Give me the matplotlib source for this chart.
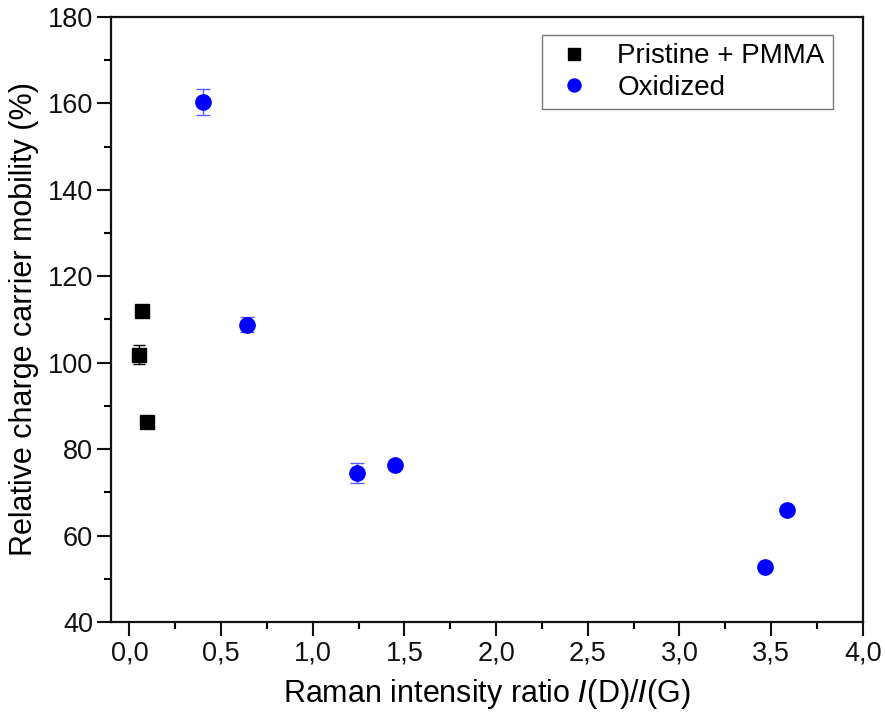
import matplotlib
matplotlib.use("Agg")
import matplotlib.pyplot as plt
from matplotlib.ticker import FuncFormatter, MultipleLocator

plt.rcParams['font.family'] = ['Liberation Sans', 'DejaVu Sans']

pristine_x = [0.071, 0.055, 0.099]
pristine_y = [112.0, 101.8, 86.3]
pristine_err = [0.0, 2.2, 0.0]

oxid_x = [0.40, 0.64, 1.243, 1.45, 3.467, 3.587]
oxid_y = [160.4, 108.8, 74.5, 76.3, 52.7, 65.9]
oxid_err = [3.0, 1.8, 2.3, 0.0, 0.0, 0.0]

fig = plt.figure(figsize=(8.85, 7.22), dpi=100)
ax = fig.add_axes([0.1254, 0.1385, 0.975 - 0.1254, 0.9765 - 0.1385])

ax.errorbar(pristine_x, pristine_y, yerr=pristine_err, fmt='none',
            ecolor='black', elinewidth=1, capsize=4.5, capthick=1, zorder=2)
ax.errorbar(oxid_x, oxid_y, yerr=oxid_err, fmt='none',
            ecolor='#5a5aff', elinewidth=1, capsize=5, capthick=1, zorder=2)
ax.plot(pristine_x, pristine_y, 's', color='black', ms=9.5, ls='none',
        label='Pristine + PMMA', zorder=3)
ax.plot(oxid_x, oxid_y, 'o', color='#0000ff', ms=11, ls='none',
        label='Oxidized', zorder=3)

ax.set_xlim(-0.1, 4.0)
ax.set_ylim(40, 180)
ax.xaxis.set_major_locator(MultipleLocator(0.5))
ax.xaxis.set_minor_locator(MultipleLocator(0.25))
ax.yaxis.set_major_locator(MultipleLocator(20))
ax.yaxis.set_minor_locator(MultipleLocator(10))
ax.xaxis.set_major_formatter(FuncFormatter(lambda v, p: f"{v:.1f}".replace('.', ',')))
ax.yaxis.set_major_formatter(FuncFormatter(lambda v, p: f"{v:.0f}"))

ax.tick_params(which='major', direction='out', length=10, width=1.5, labelsize=19.5,
               top=False, right=False, colors='#111111', pad=3)
ax.tick_params(which='minor', direction='out', length=5, width=1.5, top=False, right=False)
for s in ax.spines.values():
    s.set_linewidth(1.6)
    s.set_color('#111111')

ax.set_xlabel(r'Raman intensity ratio $\mathit{I}$(D)/$\mathit{I}$(G)', fontsize=22, labelpad=8)
ax.set_ylabel('Relative charge carrier mobility (%)', fontsize=22, labelpad=6)

leg = ax.legend(loc='upper right', bbox_to_anchor=(0.96, 0.97), borderaxespad=0,
                fontsize=20, frameon=True, fancybox=False, edgecolor='#555555',
                handletextpad=0.7, borderpad=0.3, labelspacing=0.2, handlelength=1.7,
                numpoints=1, markerscale=0.85)
leg.get_frame().set_linewidth(1.0)

fig.savefig('out.png', dpi=100)
